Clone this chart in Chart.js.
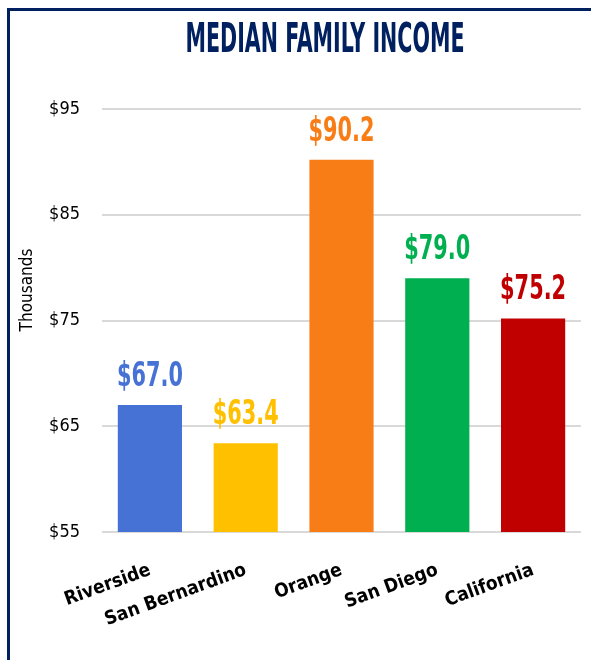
<!DOCTYPE html>
<html>
<head>
<meta charset="utf-8">
<script src="https://cdn.jsdelivr.net/npm/chart.js@4.4.1/dist/chart.umd.min.js"></script>
<style>
	html, body { margin: 0; padding: 0; background: #fff; }
	#wrap { width: 591px; height: 660px; }
</style>
</head>
<body>
<div id="wrap"><canvas id="incomeChart" width="591" height="660"></canvas></div>
<script>
var FONT = "'Liberation Sans Narrow', 'DejaVu Sans Condensed', sans-serif";

var regions = ['Riverside', 'San Bernardino', 'Orange', 'San Diego', 'California'];
var income = [67.0, 63.4, 90.2, 79.0, 75.2];
var barColors = ['#4672D6', '#FFC000', '#F97D17', '#00B050', '#C00000'];
var yTicks = [55, 65, 75, 85, 95];
var chartTitle = 'MEDIAN FAMILY INCOME';
var yTitle = 'Thousands';

// frame, title and axis title
var framePlugin = {
	id : 'frame',
	beforeDraw : function(chart) {
		var ctx = chart.ctx;
		ctx.save();
		ctx.fillStyle = '#fff';
		ctx.fillRect(0, 0, chart.width, chart.height);
		ctx.strokeStyle = '#002060';
		ctx.lineWidth = 3;
		ctx.strokeRect(8.5, 9.5, 800, 800);
		ctx.restore();
	},
	afterDraw : function(chart) {
		var ctx = chart.ctx;
		ctx.save();
		ctx.font = 'bold 40px ' + FONT;
		ctx.fillStyle = '#002060';
		ctx.textAlign = 'center';
		ctx.textBaseline = 'alphabetic';
		var w = ctx.measureText(chartTitle).width;
		ctx.translate(325, 52);
		ctx.scale(279 / w, 1);
		ctx.fillText(chartTitle, 0, 0);
		ctx.restore();

		// "Thousands" sits a bit above the middle of the axis, like the original
		ctx.save();
		ctx.font = '17px ' + FONT;
		ctx.fillStyle = '#000';
		ctx.textAlign = 'center';
		ctx.textBaseline = 'middle';
		ctx.translate(28, 290);
		ctx.rotate(-Math.PI / 2);
		ctx.fillText(yTitle, 0, 0);
		ctx.restore();
	}
};

// value labels above bars
var valueLabels = {
	id : 'valueLabels',
	afterDatasetsDraw : function(chart) {
		var ctx = chart.ctx;
		var meta = chart.getDatasetMeta(0);
		ctx.save();
		ctx.font = 'bold 33px ' + FONT;
		ctx.textAlign = 'center';
		ctx.textBaseline = 'alphabetic';
		meta.data.forEach(function(bar, i) {
			var txt = '$' + income[i].toFixed(1);
			var w = ctx.measureText(txt).width;
			ctx.save();
			ctx.fillStyle = barColors[i];
			ctx.translate(bar.x, bar.y - 19);
			ctx.scale(Math.min(1, 66 / w), 1);
			ctx.fillText(txt, 0, 0);
			ctx.restore();
		});
		ctx.restore();
	}
};

var ctx = document.getElementById('incomeChart').getContext('2d');
new Chart(ctx, {
	type : 'bar',
	data : {
		labels : regions,
		datasets : [ {
			data : income,
			backgroundColor : barColors,
			borderWidth : 0,
			categoryPercentage : 1,
			barPercentage : 0.67
		} ]
	},
	options : {
		responsive : false,
		animation : false,
		layout : { padding : { left : 12, right : 10, top : 109, bottom : 10 } },
		plugins : {
			legend : { display : false },
			tooltip : { enabled : false },
			title : { display : false }
		},
		scales : {
			x : {
				grid : { display : false, drawTicks : false },
				border : { display : false },
				ticks : {
					color : '#000',
					font : { family : FONT, size : 19, weight : 'bold' },
					minRotation : 20,
					maxRotation : 20,
					padding : 27
				},
				afterFit : function(scale) { scale.height = 118; }
			},
			y : {
				min : 55,
				max : 95,
				afterBuildTicks : function(scale) {
					scale.ticks = yTicks.map(function(v) { return { value : v }; });
				},
				grid : { color : '#d9d9d9', lineWidth : 2, drawTicks : false },
				border : { display : false },
				ticks : {
					color : '#000',
					font : { family : FONT, size : 18 },
					padding : 22,
					callback : function(v) { return '$' + v; }
				},
				afterFit : function(scale) { scale.width = 90; }
			}
		}
	},
	plugins : [ framePlugin, valueLabels ]
});
</script>
</body>
</html>
